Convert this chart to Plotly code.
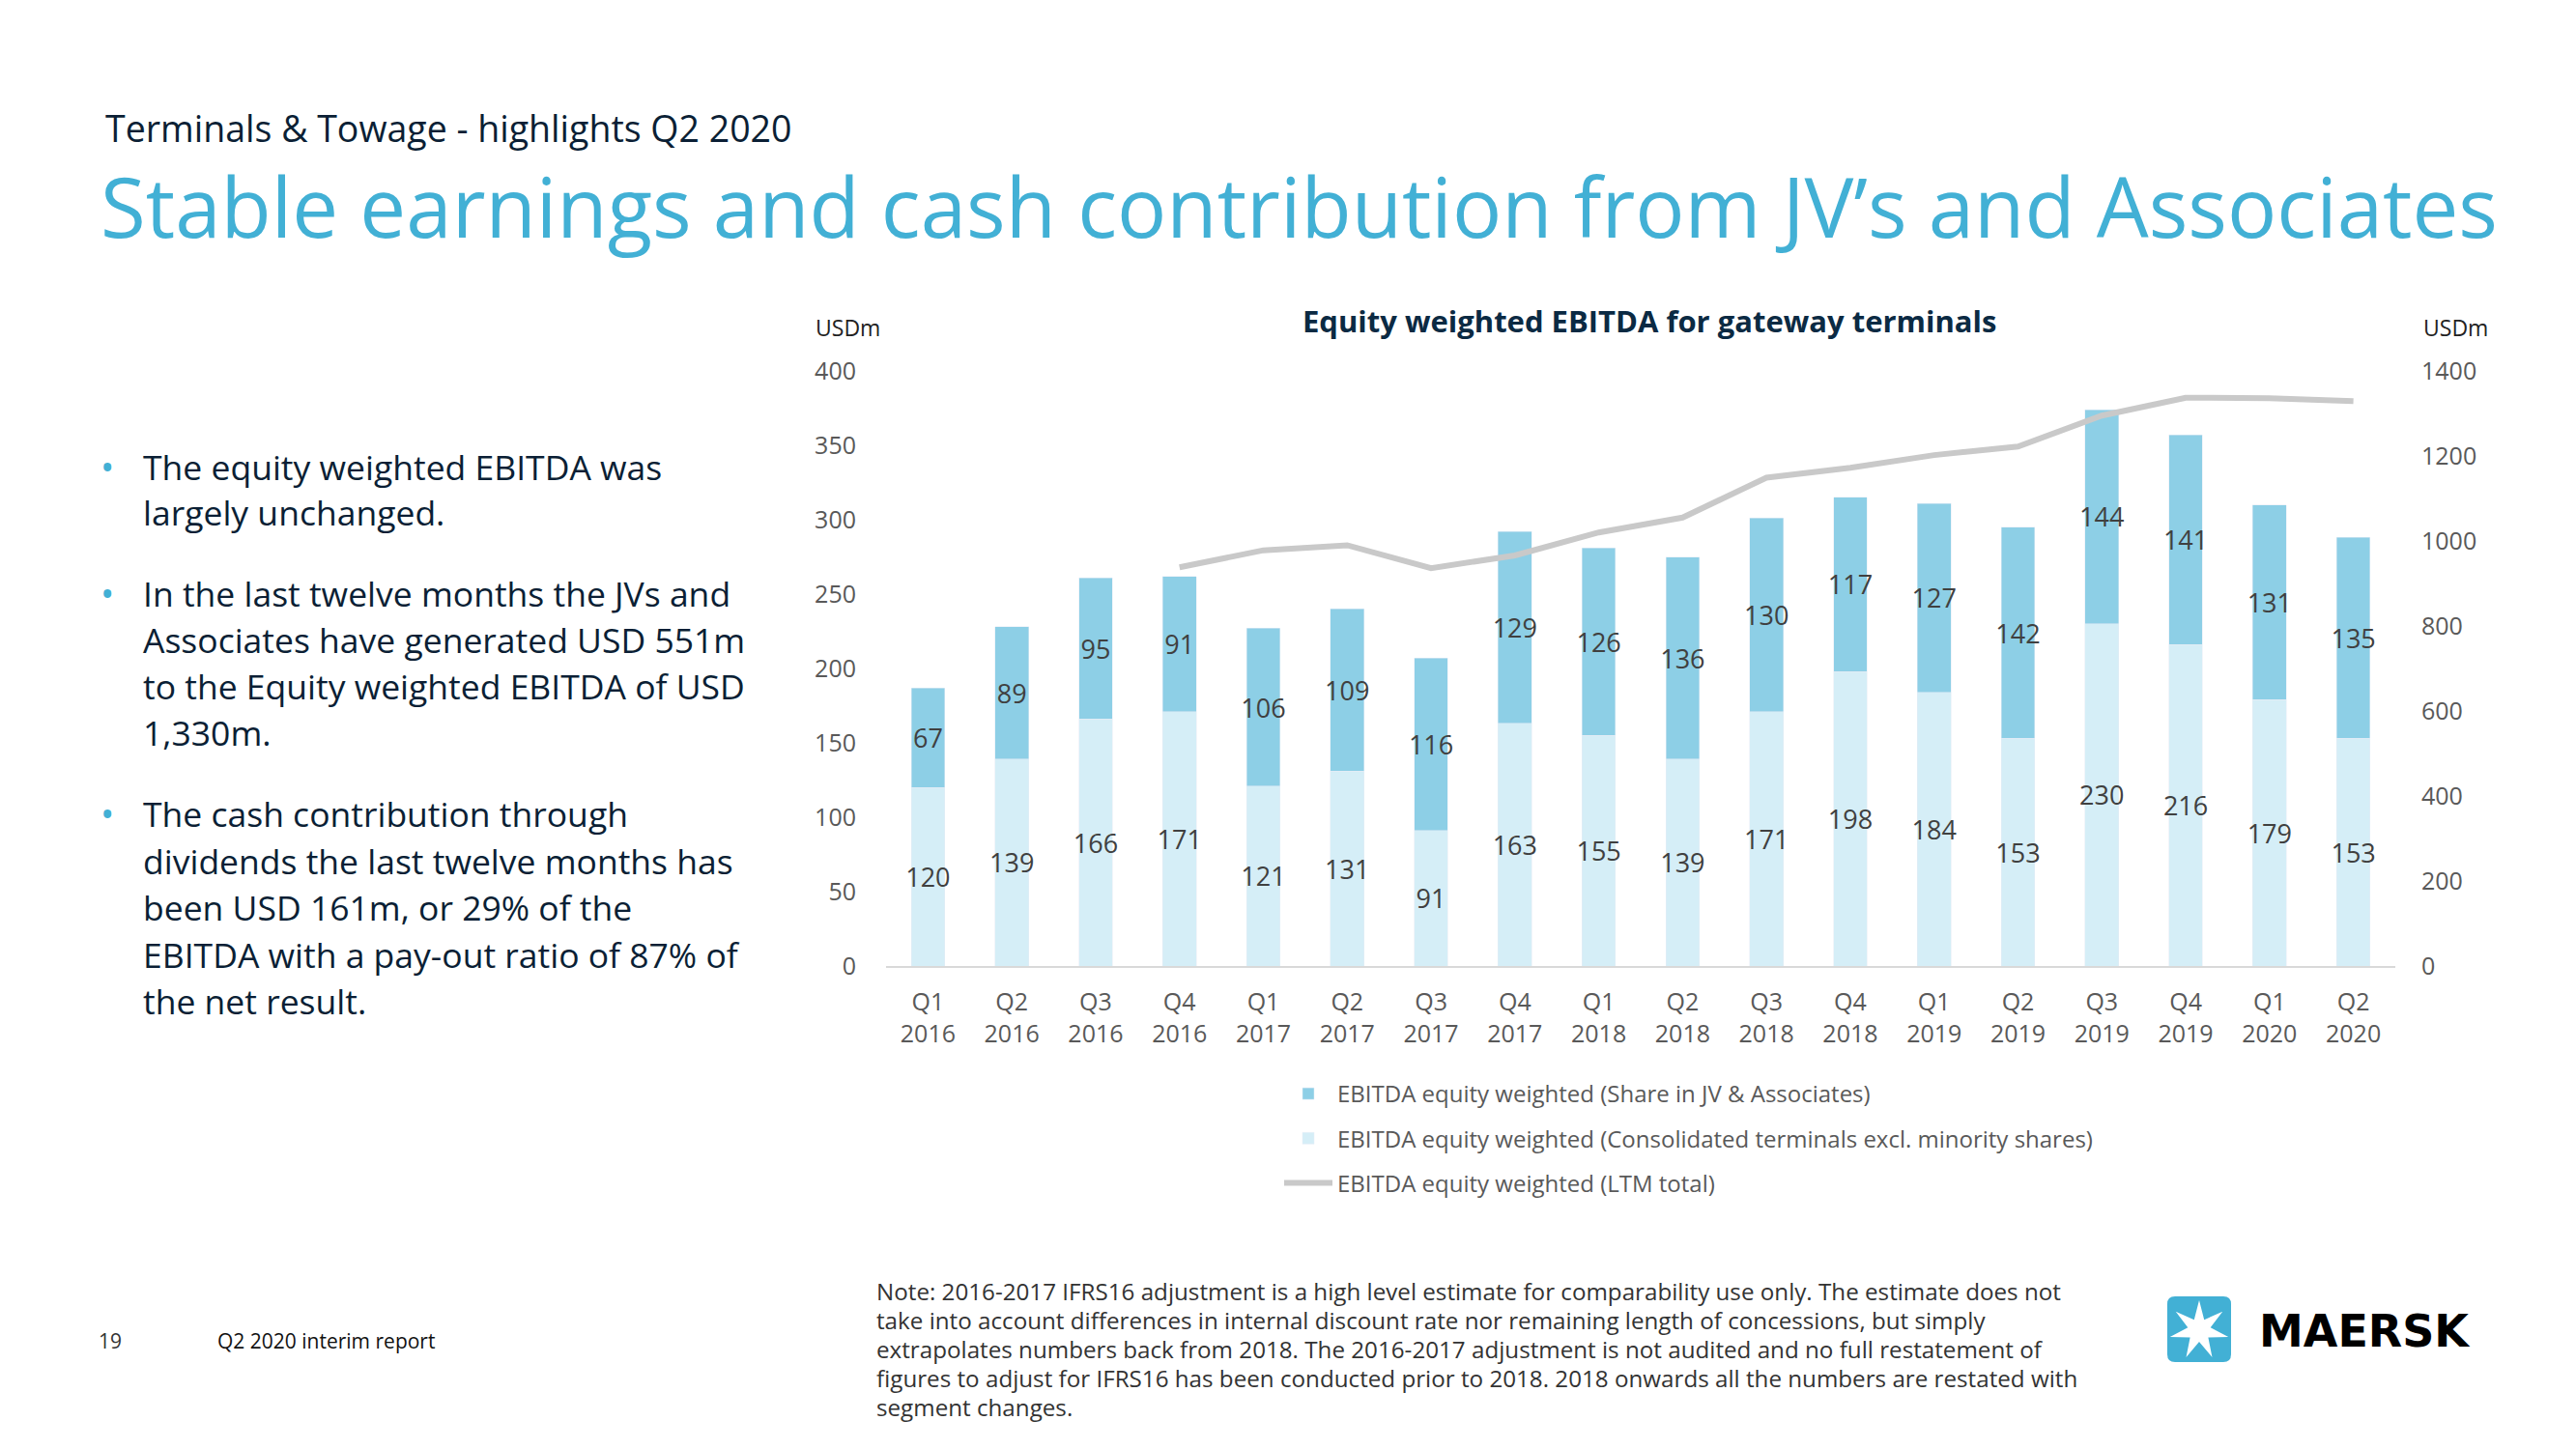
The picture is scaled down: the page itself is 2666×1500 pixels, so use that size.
import math
import plotly.graph_objects as go

# ---------------- data ----------------
quarters = ["Q1<br>2016", "Q2<br>2016", "Q3<br>2016", "Q4<br>2016",
            "Q1<br>2017", "Q2<br>2017", "Q3<br>2017", "Q4<br>2017",
            "Q1<br>2018", "Q2<br>2018", "Q3<br>2018", "Q4<br>2018",
            "Q1<br>2019", "Q2<br>2019", "Q3<br>2019", "Q4<br>2019",
            "Q1<br>2020", "Q2<br>2020"]
consolidated = [120, 139, 166, 171, 121, 131, 91, 163, 155, 139, 171, 198, 184, 153, 230, 216, 179, 153]
jv_share = [67, 89, 95, 91, 106, 109, 116, 129, 126, 136, 130, 117, 127, 142, 144, 141, 131, 135]
ltm_total = [None, None, None, 938, 978, 990, 936, 966, 1020, 1055, 1149, 1172, 1202, 1222, 1295, 1337, 1336, 1329]
left_ticks = [0, 50, 100, 150, 200, 250, 300, 350, 400]
right_ticks = [0, 200, 400, 600, 800, 1000, 1200, 1400]

names = ["EBITDA equity weighted (Share in JV & Associates)",
         "EBITDA equity weighted (Consolidated terminals excl. minority shares)",
         "EBITDA equity weighted (LTM total)"]

bullets = [
    ["The equity weighted EBITDA was", "largely unchanged."],
    ["In the last twelve months the JVs and", "Associates have generated USD 551m",
     "to the Equity weighted EBITDA of USD", "1,330m."],
    ["The cash contribution through", "dividends the last twelve months has",
     "been USD 161m, or 29% of the", "EBITDA with a pay-out ratio of 87% of",
     "the net result."],
]
note_lines = [
    "Note: 2016-2017 IFRS16 adjustment is a high level estimate for comparability use only. The estimate does not",
    "take into account differences in internal discount rate nor remaining length of concessions, but simply",
    "extrapolates numbers back from 2018. The 2016-2017 adjustment is not audited and no full restatement of",
    "figures to adjust for IFRS16 has been conducted prior to 2018. 2018 onwards all the numbers are restated with",
    "segment changes.",
]

# ---------------- styling ----------------
W, H = 2666, 1500
PL, PR, PT, PB = 917, 2479, 384, 1000
FONT = "Open Sans"
DARK = "#8DCFE6"
LIGHT = "#D5EEF7"
LINE = "#C9C9C9"
BLUE = "#42B0D5"
NAVY = "#0B1F35"
GREY = "#595959"


def px(x):
    return (x - PL) / (PR - PL)


def py(y):
    return (PB - y) / (PB - PT)


fig = go.Figure()
fig.add_trace(go.Bar(
    x=quarters, y=consolidated, name=names[1], marker_color=LIGHT,
    text=consolidated, textposition="inside", insidetextanchor="middle",
    textangle=0, constraintext="none",
    textfont=dict(family=FONT, size=27, color="#404040"),
    legendgroup="b", legendrank=2))
fig.add_trace(go.Bar(
    x=quarters, y=jv_share, name=names[0], marker_color=DARK,
    text=jv_share, textposition="inside", insidetextanchor="middle",
    textangle=0, constraintext="none",
    textfont=dict(family=FONT, size=27, color="#404040"),
    legendgroup="a", legendrank=1))
fig.add_trace(go.Scatter(
    x=quarters, y=ltm_total, name=names[2], yaxis="y2", mode="lines",
    line=dict(color=LINE, width=6), connectgaps=False,
    legendgroup="c", legendrank=3))

fig.update_layout(
    width=W, height=H,
    margin=dict(l=PL, r=W - PR, t=PT, b=H - PB, pad=0),
    paper_bgcolor="white", plot_bgcolor="white",
    barmode="stack", bargap=0.6,
    font=dict(family=FONT, color=GREY),
    xaxis=dict(showgrid=False, showline=True, linecolor="#D9D9D9", linewidth=2,
               ticks="", tickfont=dict(family=FONT, size=25, color=GREY),
               ticklabelstandoff=14, fixedrange=True),
    yaxis=dict(range=[0, 400], tickvals=left_ticks, showgrid=False, zeroline=False,
               showline=False, ticks="", tickfont=dict(family=FONT, size=25, color=GREY),
               ticklabelstandoff=30),
    yaxis2=dict(range=[0, 1400], tickvals=right_ticks, overlaying="y", side="right",
                showgrid=False, zeroline=False, showline=False, ticks="",
                tickfont=dict(family=FONT, size=25, color=GREY), ticklabelstandoff=26),
    legend=dict(x=px(1324), y=py(1110), xanchor="left", yanchor="top",
                font=dict(family=FONT, size=24, color=GREY),
                traceorder="grouped", tracegroupgap=12, itemwidth=50,
                bgcolor="rgba(0,0,0,0)"),
    showlegend=True,
)

ann = []
# header
ann.append(dict(x=px(107), y=py(133), text="Terminals & Towage - highlights Q2 2020",
                font=dict(family=FONT, size=37.5, color=NAVY)))
ann.append(dict(x=px(102), y=py(213), text="Stable earnings and cash contribution from JV\u2019s and Associates",
                font=dict(family=FONT, size=85.3, color=BLUE)))
# chart title & units
ann.append(dict(x=px(1707), y=py(332), xanchor="center",
                text="<b>Equity weighted EBITDA for gateway terminals</b>",
                font=dict(family=FONT, size=31, color="#0B2A43")))
ann.append(dict(x=px(842), y=py(339), text="USDm", font=dict(family=FONT, size=23, color="#222222")))
ann.append(dict(x=px(2506), y=py(339), text="USDm", font=dict(family=FONT, size=23, color="#222222")))

# bullets
bullet_y = [[483, 530], [614, 662, 710, 758], [842, 891, 939, 988, 1036]]
for lines, ys in zip(bullets, bullet_y):
    ann.append(dict(x=px(102), y=py(ys[0]), text="\u2022",
                    font=dict(family=FONT, size=38, color=BLUE)))
    for t, yy in zip(lines, ys):
        ann.append(dict(x=px(146), y=py(yy), text=t,
                        font=dict(family=FONT, size=35.5, color=NAVY)))

# note
for i, t in enumerate(note_lines):
    ann.append(dict(x=px(905), y=py(1336 + i * 30), text=t,
                    font=dict(family=FONT, size=24.2, color="#333333")))

# footer
ann.append(dict(x=px(100), y=py(1388), text="19", font=dict(family=FONT, size=21, color="#333333")))
ann.append(dict(x=px(223), y=py(1388), text="Q2 2020 interim report",
                font=dict(family=FONT, size=21, color="#111111")))
ann.append(dict(x=px(2336), y=py(1378), text="<b>MAERSK</b>",
                font=dict(family="DejaVu Sans", size=46, color="#000000")))

for a in ann:
    a.setdefault("xanchor", "left")
    a.setdefault("yanchor", "middle")
    a.update(xref="paper", yref="paper", showarrow=False)
fig.update_layout(annotations=ann)

# logo: rounded square + 7-point star
x0, x1, y0, y1, r = 2243, 2309, 1342, 1410, 8
sq = (f"M {px(x0 + r)},{py(y0)} L {px(x1 - r)},{py(y0)} Q {px(x1)},{py(y0)} {px(x1)},{py(y0 + r)} "
      f"L {px(x1)},{py(y1 - r)} Q {px(x1)},{py(y1)} {px(x1 - r)},{py(y1)} "
      f"L {px(x0 + r)},{py(y1)} Q {px(x0)},{py(y1)} {px(x0)},{py(y1 - r)} "
      f"L {px(x0)},{py(y0 + r)} Q {px(x0)},{py(y0)} {px(x0 + r)},{py(y0)} Z")
cx, cy, ro, ri = 2276, 1377, 31, 12
pts = []
for k in range(14):
    ang = -math.pi / 2 + k * math.pi / 7
    rr = ro if k % 2 == 0 else ri
    pts.append((px(cx + rr * math.cos(ang)), py(cy + rr * math.sin(ang))))
star = "M " + " L ".join(f"{a},{b}" for a, b in pts) + " Z"
fig.update_layout(shapes=[
    dict(type="path", path=sq, xref="paper", yref="paper", fillcolor=BLUE, line=dict(width=0)),
    dict(type="path", path=star, xref="paper", yref="paper", fillcolor="white", line=dict(width=0)),
])

fig.write_html("out.html")
